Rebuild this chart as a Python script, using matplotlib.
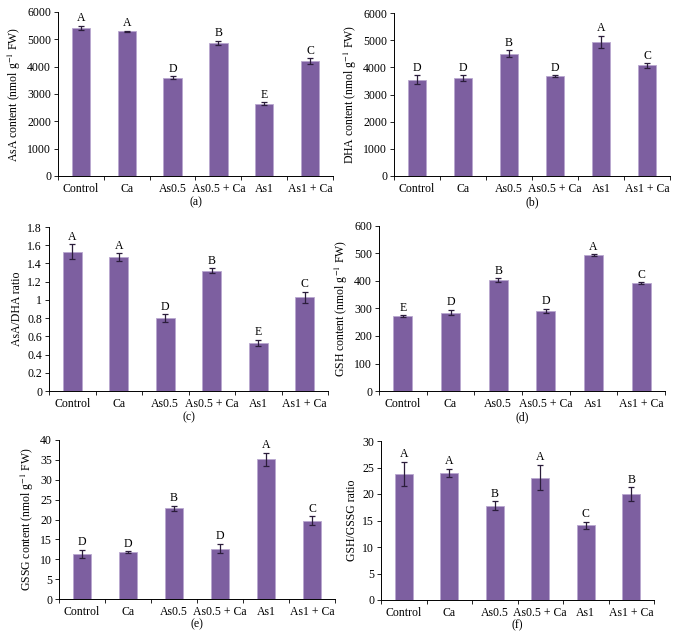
import matplotlib
matplotlib.use('Agg')
import matplotlib.pyplot as plt

plt.rcParams['font.family'] = ['Liberation Serif', 'DejaVu Serif']
plt.rcParams['mathtext.fontset'] = 'stix'

treatments = ['Control', 'Ca', 'As0.5', 'As0.5 + Ca', 'As1', 'As1 + Ca']

# AsA content
asa = [5420, 5290, 3600, 4880, 2650, 4200]
asa_err = [80, 30, 50, 70, 60, 120]
asa_let = ['A', 'A', 'D', 'B', 'E', 'C']

# DHA content
dha = [3550, 3600, 4500, 3680, 4950, 4070]
dha_err = [150, 100, 120, 30, 220, 90]
dha_let = ['D', 'D', 'B', 'D', 'A', 'C']

# AsA/DHA ratio
asa_dha = [1.53, 1.47, 0.80, 1.32, 0.53, 1.03]
asa_dha_err = [0.08, 0.04, 0.04, 0.03, 0.035, 0.06]
asa_dha_let = ['A', 'A', 'D', 'B', 'E', 'C']

# GSH content
gsh = [272, 285, 403, 292, 495, 392]
gsh_err = [3, 10, 8, 7, 3, 3]
gsh_let = ['E', 'D', 'B', 'D', 'A', 'C']

# GSSG content
gssg = [11.4, 11.8, 22.8, 12.7, 35.1, 19.7]
gssg_err = [1.0, 0.2, 0.7, 1.2, 1.7, 1.2]
gssg_let = ['D', 'D', 'B', 'D', 'A', 'C']

# GSH/GSSG ratio
gsh_gssg = [23.8, 24.0, 17.8, 23.1, 14.1, 20.0]
gsh_gssg_err = [2.3, 0.8, 0.9, 2.4, 0.7, 1.3]
gsh_gssg_let = ['A', 'A', 'B', 'A', 'C', 'B']

bar_color = '#7d5fa0'
W, H = 674, 641

panels = [
    # vals, errs, letters, ylabel, ymax, ystep, yfmt, box(px: left, right, top, bottom), tag
    (asa, asa_err, asa_let, r'AsA content (nmol g$^{-1}$ FW)', 6000, 1000, '{:.0f}', (58, 333, 12, 176), '(a)'),
    (dha, dha_err, dha_let, r'DHA content (nmol g$^{-1}$ FW)', 6000, 1000, '{:.0f}', (394, 670, 13, 176), '(b)'),
    (asa_dha, asa_dha_err, asa_dha_let, 'AsA/DHA ratio', 1.8, 0.2, 'g', (49, 328, 227, 391), '(c)'),
    (gsh, gsh_err, gsh_let, r'GSH content (nmol g$^{-1}$ FW)', 600, 100, '{:.0f}', (379, 665, 226, 391), '(d)'),
    (gssg, gssg_err, gssg_let, r'GSSG content (nmol g$^{-1}$ FW)', 40, 5, '{:.0f}', (59, 335, 440, 599), '(e)'),
    (gsh_gssg, gsh_gssg_err, gsh_gssg_let, 'GSH/GSSG ratio', 30, 5, '{:.0f}', (381, 654, 441, 600), '(f)'),
]

fig = plt.figure(figsize=(W / 100, H / 100), dpi=100)

for vals, errs, lets, ylab, ymax, ystep, yfmt, box, tag in panels:
    l, r, t, b = box
    ax = fig.add_axes([l / W, 1 - b / H, (r - l) / W, (b - t) / H])
    x = range(len(treatments))
    ax.bar(x, vals, width=0.4, color=bar_color, edgecolor='#b9a8d0', linewidth=0.6,
           yerr=errs, capsize=2,
           error_kw=dict(ecolor='#2b1d3b', elinewidth=0.9, capthick=0.9))
    for xi, v, e, s in zip(x, vals, errs, lets):
        ax.annotate(s, (xi, v + e), xytext=(0, 1), textcoords='offset points',
                    ha='center', va='bottom', fontsize=8.5)
    ax.set_xlim(-0.5, len(treatments) - 0.5)
    ax.set_ylim(0, ymax)
    n = int(round(ymax / ystep))
    yt = [i * ystep for i in range(n + 1)]
    ax.set_yticks(yt)
    if yfmt == 'g':
        ax.set_yticklabels(['{:g}'.format(round(v, 1)) for v in yt])
    else:
        ax.set_yticklabels([yfmt.format(v) for v in yt])
    ax.set_xticks([i - 0.5 for i in range(len(treatments) + 1)])
    ax.set_xticklabels([])
    ax.set_xticks(list(x), minor=True)
    ax.set_xticklabels(treatments, minor=True)
    ax.tick_params(axis='x', which='minor', length=0, pad=5, labelsize=8.5)
    ax.tick_params(axis='x', which='major', length=3, width=0.6)
    ax.tick_params(axis='y', length=3, width=0.6, labelsize=8.5, pad=2)
    ax.spines['top'].set_visible(False)
    ax.spines['right'].set_visible(False)
    ax.spines['left'].set_linewidth(0.7)
    ax.spines['bottom'].set_linewidth(0.7)
    ax.set_ylabel(ylab, fontsize=8.5, labelpad=3)
    ax.text(0.5, -0.16, tag, transform=ax.transAxes, ha='center', va='center', fontsize=8.5)

fig.savefig('out.png', dpi=100)
